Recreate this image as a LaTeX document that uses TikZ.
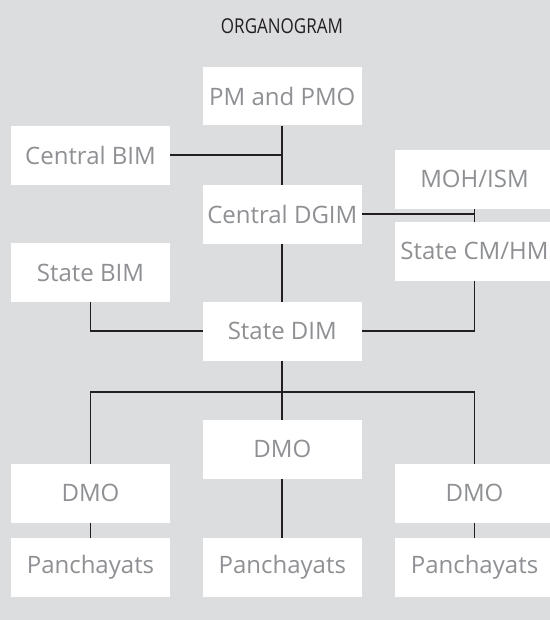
\documentclass[tikz,border=0pt]{standalone}
\usepackage{fontspec}
\setmainfont{Open Sans}
\newfontfamily\titlefont[FakeStretch=0.83]{Open Sans}
\definecolor{bgc}{RGB}{220,221,223}
\definecolor{txtc}{RGB}{142,144,147}
\definecolor{linec}{RGB}{35,31,32}
\begin{document}
\begin{tikzpicture}[x=1bp,y=-1bp,
  box/.style={fill=white, draw=none, minimum width=159bp, minimum height=58.7bp,
    inner sep=0pt, text=txtc, font=\fontsize{24bp}{28bp}\selectfont},
  conn/.style={draw=linec, line width=1.8bp}]
\clip (0,0) rectangle (550,620);
\fill[bgc] (0,0) rectangle (550,620);
\node[text=linec, font=\titlefont\fontsize{20.5bp}{23bp}\selectfont, anchor=base] (title) at (282,34) {ORGANOGRAM};

\node[box] (pm)   at (282.3,96.1)  {PM and PMO};
\node[box] (cbim) at (90.5,155.2)  {Central BIM};
\node[box] (dgim) at (282.3,214.3) {Central DGIM};
\node[box] (moh)  at (474.5,179.3) {MOH/ISM};
\node[box] (cmhm) at (474.5,251.3) {State CM/HM};
\node[box] (sbim) at (90.5,272.5)  {State BIM};
\node[box] (dim)  at (282.3,331.3) {State DIM};
\node[box] (dmom) at (282.3,449.3) {DMO};
\node[box] (dmol) at (90.5,493.3)  {DMO};
\node[box] (dmor) at (474.5,493.3) {DMO};
\node[box] (pl)   at (90.5,567.5)  {Panchayats};
\node[box] (pmid) at (282.3,567.5) {Panchayats};
\node[box] (pr)   at (474.5,567.5) {Panchayats};

\coordinate (bus) at (282.3,392);

\draw[conn] (pm.south) -- (dgim.north);
\draw[conn] (cbim.east) -- (cbim.east -| pm.south);
\draw[conn] (moh.south) -- (cmhm.north);
\draw[conn] (dgim.east) -- (dgim.east -| moh.south);
\draw[conn] (dgim.south) -- (dim.north);
\draw[conn] (sbim.south) |- (dim.west);
\draw[conn] (cmhm.south) |- (dim.east);
\draw[conn] (dim.south) -- (bus);
\draw[conn] (dmol.north) |- (bus);
\draw[conn] (dmor.north) |- (bus);
\draw[conn] (bus) -- (dmom.north);
\draw[conn] (dmol.south) -- (pl.north);
\draw[conn] (dmom.south) -- (pmid.north);
\draw[conn] (dmor.south) -- (pr.north);
\end{tikzpicture}
\end{document}
